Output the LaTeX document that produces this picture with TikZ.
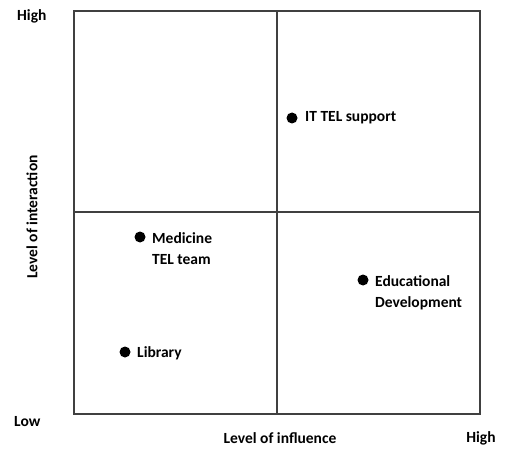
\documentclass[tikz,border=0pt]{standalone}
\usepackage{fontspec}
\setmainfont{Carlito}
\begin{document}
\begin{tikzpicture}[x=1pt,y=-1pt,
  lbl/.style={font=\bfseries\fontsize{15.5}{17}\selectfont, inner sep=0pt, text=black},
  pt/.style={circle, fill=black, minimum size=11pt, inner sep=0pt},
  frame/.style={draw=black!75, line width=1.3pt}]
\useasboundingbox (0,0) rectangle (511,449);
\coordinate (bl) at (74,414);
\coordinate (tr) at (480,11);
\draw[frame] (bl) rectangle (tr);
\coordinate (tm) at (277,11);
\coordinate (bm) at (277,414);
\coordinate (lm) at (74,212);
\coordinate (rm) at (480,212);
\draw[frame] (tm) -- (bm);
\draw[frame] (lm) -- (rm);
\node[lbl, anchor=west] (high1) at (17,16) {High};
\node[lbl, anchor=west] (low) at (14,422) {Low};
\node[lbl] (xl) at (280,438) {Level of influence};
\node[lbl] (high2) at (481,438) {High};
\node[lbl, rotate=90] (yl) at (32,217) {Level of interaction};
\node[pt] (d1) at (292,118) {};
\node[lbl, anchor=west] (t1) at (305,118) {IT TEL support};
\node[pt] (d2) at (140,237) {};
\node[lbl, anchor=west] (t2) at (152,238) {Medicine};
\node[lbl, anchor=west] (t2b) at (152,260) {TEL team};
\node[pt] (d3) at (363,280) {};
\node[lbl, anchor=west] (t3) at (375,281) {Educational};
\node[lbl, anchor=west] (t3b) at (375,303) {Development};
\node[pt] (d4) at (125,352) {};
\node[lbl, anchor=west] (t4) at (137,353) {Library};
\end{tikzpicture}
\end{document}
